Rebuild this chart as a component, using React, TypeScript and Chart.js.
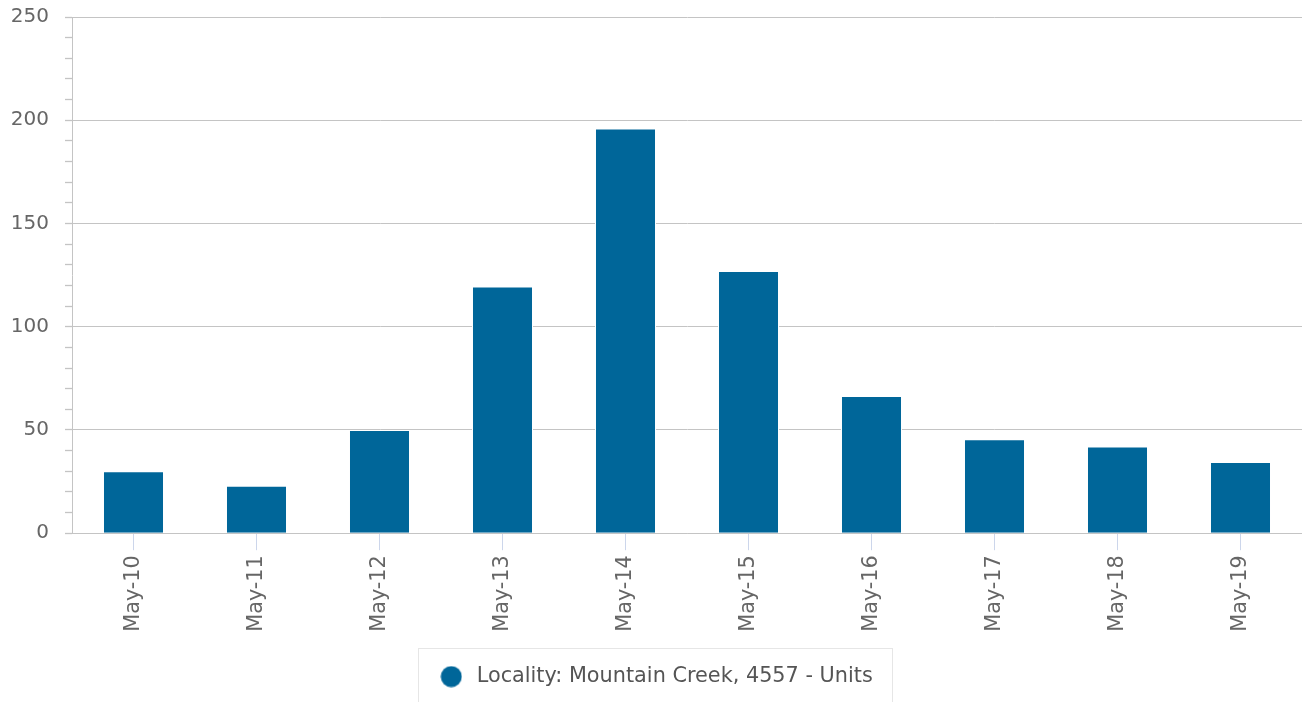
import { useEffect, useRef } from "react";
import { Chart, registerables } from "chart.js";

Chart.register(...registerables);

const categories = ["May-10", "May-11", "May-12", "May-13", "May-14", "May-15", "May-16", "May-17", "May-18", "May-19"];
const seriesName = "Locality: Mountain Creek, 4557 - Units";
const values = [30, 23, 50, 119.5, 196, 127, 66.5, 45.5, 42, 34.5];
const yMajorTicks = [0, 50, 100, 150, 200, 250];

const BAR_COLOR = "#006699";
const FONT = "'DejaVu Sans', sans-serif";
const LINE = "#c4c4c4";

export default function App() {
  const ref = useRef<HTMLCanvasElement>(null);

  useEffect(() => {
    if (!ref.current) return;
    const marker = document.createElement("canvas");
    marker.width = 22;
    marker.height = 22;
    const mctx = marker.getContext("2d")!;
    mctx.fillStyle = BAR_COLOR;
    mctx.beginPath();
    mctx.arc(11, 11, 10.5, 0, Math.PI * 2);
    mctx.fill();

    const legendBorder = {
      id: "legendBorder",
      afterDraw(chart: any) {
        const lg = chart.legend;
        if (!lg || !lg.legendHitBoxes || !lg.legendHitBoxes.length) return;
        const hb = lg.legendHitBoxes[0];
        const ctx = chart.ctx;
        ctx.save();
        ctx.strokeStyle = "#e6e6e6";
        ctx.lineWidth = 1;
        ctx.strokeRect(Math.round(hb.left - 18) + 0.5, Math.round(hb.top - 18) + 0.5, Math.round(hb.width + 38), 120);
        ctx.restore();
      },
    };

    const chart = new Chart(ref.current, {
      type: "bar",
      data: {
        labels: categories,
        datasets: [
          {
            label: seriesName,
            data: values,
            backgroundColor: BAR_COLOR,
            borderColor: "#ffffff",
            borderWidth: 1,
            barPercentage: 0.496,
            categoryPercentage: 1,
            pointStyle: marker as any,
          },
        ],
      },
      options: {
        animation: false,
        responsive: true,
        maintainAspectRatio: false,
        layout: { padding: { left: 7, right: 0, top: 17, bottom: 5 } },
        font: { family: FONT },
        plugins: {
          tooltip: { enabled: false },
          legend: {
            display: true,
            position: "bottom",
            labels: {
              usePointStyle: true,
              pointStyleWidth: 30,
              boxHeight: 20,
              padding: 10,
              color: "#555555",
              font: { family: FONT, size: 20.8 },
            },
          },
        },
        scales: {
          x: {
            type: "category",
            offset: true,
            grid: {
              offset: false,
              drawOnChartArea: false,
              drawTicks: true,
              tickLength: 17,
              tickColor: "#ccd6eb",
              color: "#ccd6eb",
            },
            border: { display: true, color: LINE, width: 1 },
            ticks: {
              minRotation: 90,
              maxRotation: 90,
              autoSkip: false,
              padding: 5,
              color: "#666666",
              font: { family: FONT, size: 20.8 },
            },
            afterFit: (s: any) => {
              s.height = 123;
              s.paddingLeft = 0;
              s.paddingRight = 0;
            },
          },
          y: {
            min: 0,
            max: 250,
            grid: {
              color: (c: any) => (c.tick && yMajorTicks.includes(c.tick.value) ? LINE : "rgba(0,0,0,0)"),
              tickColor: LINE,
              tickLength: 7,
              lineWidth: 1,
              tickWidth: 1.3,
            },
            border: { display: true, color: LINE, width: 1 },
            ticks: {
              stepSize: 10,
              autoSkip: false,
              padding: 16,
              color: "#666666",
              font: { family: FONT, size: 20 },
              callback: (v: any) => (yMajorTicks.includes(Number(v)) ? String(v) : ""),
            },
            afterFit: (s: any) => {
              s.width = 65;
              s.paddingTop = 0;
              s.paddingBottom = 0;
            },
          },
        },
      },
      plugins: [legendBorder],
    });
    return () => chart.destroy();
  }, []);

  return (
    <div style={{ position: "absolute", left: 0, top: 0, width: 1302, height: 702 }}>
      <canvas ref={ref} />
    </div>
  );
}
